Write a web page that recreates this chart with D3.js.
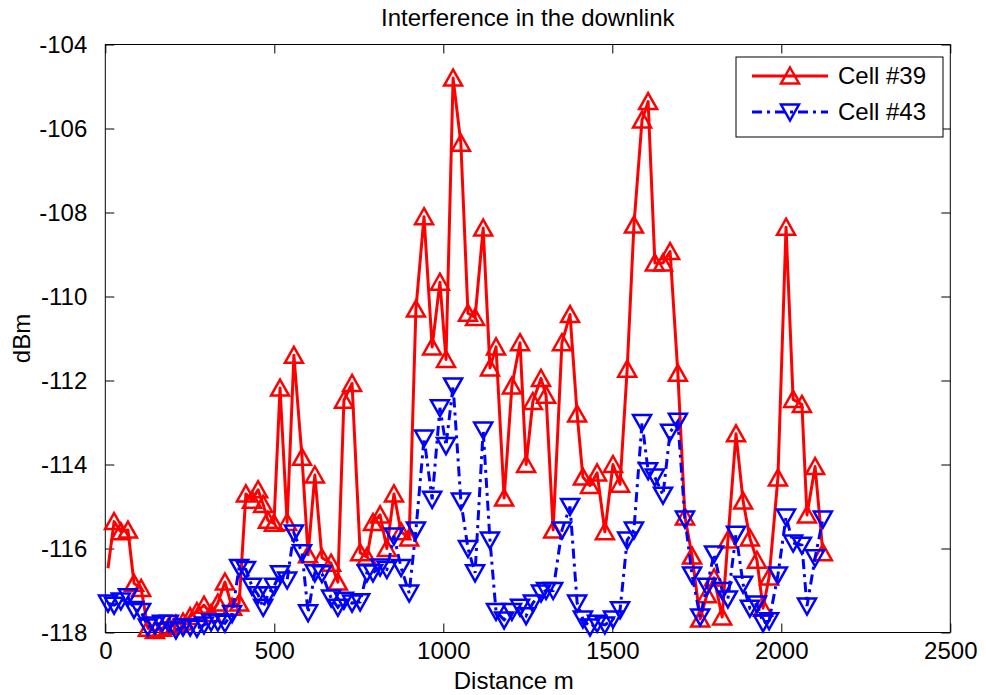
<!DOCTYPE html>
<html>
<head>
<meta charset="utf-8">
<script src="https://cdn.jsdelivr.net/npm/d3@7"></script>
<style>
  html, body { margin: 0; padding: 0; background: #fff; }
  svg { display: block; font-family: "Liberation Sans", Arial, Helvetica, sans-serif; }
</style>
</head>
<body>
<svg id="chart" width="986" height="695"></svg>
<script>
// ---- data ----
const distance = [8, 26, 46, 67, 85, 106, 126, 147, 168, 188, 209, 230, 251, 271, 292, 313, 333, 354, 375, 396,
  416, 434, 452, 467, 481, 499, 517, 538, 558, 582, 600, 620, 641, 668, 688, 706, 730, 754, 774, 792,
  813, 833, 854, 875, 899, 919, 943, 967, 990, 1008, 1029, 1052, 1073, 1094, 1118, 1138, 1156, 1180, 1203, 1227,
  1245, 1265, 1289, 1304, 1325, 1351, 1375, 1396, 1413, 1434, 1455, 1478, 1502, 1523, 1544, 1564, 1588, 1606, 1626, 1650,
  1671, 1694, 1715, 1736, 1760, 1780, 1801, 1825, 1842, 1866, 1887, 1907, 1928, 1946, 1964, 1990, 2014, 2035, 2061, 2076,
  2100, 2123];

const cell39 = [-116.47, -115.36, -115.60, -115.56, -116.83, -116.95, -117.90, -117.95, -117.90, -117.85, -117.80, -117.75, -117.62, -117.50, -117.35, -117.55, -117.30, -116.80, -117.40, -117.30,
  -114.70, -114.85, -114.60, -114.95, -115.33, -115.40, -112.18, -115.38, -111.40, -113.83, -116.15, -114.25, -116.22, -116.35, -116.80, -112.47, -112.07, -116.10, -116.20, -115.38,
  -115.20, -116.00, -114.70, -115.60, -115.75, -110.30, -108.10, -111.20, -109.66, -111.50, -104.80, -106.35, -110.40, -110.50, -108.37, -111.70, -111.20, -114.80, -112.13, -111.10,
  -114.00, -112.50, -111.95, -112.35, -115.56, -111.10, -110.43, -112.80, -114.30, -114.50, -114.20, -115.60, -114.00, -114.47, -111.73, -108.30, -105.80, -105.36, -109.20, -109.20,
  -108.93, -111.83, -115.25, -116.18, -117.68, -117.10, -116.70, -117.63, -115.80, -113.27, -114.87, -115.75, -116.28, -117.42, -116.68, -114.32, -108.35, -112.45, -112.57, -115.20,
  -114.05, -116.10];

const cell43 = [-117.30, -117.35, -117.25, -117.15, -117.45, -117.50, -117.87, -117.82, -117.78, -117.78, -117.94, -117.87, -117.87, -117.90, -117.82, -117.75, -117.75, -117.78, -117.55, -116.45,
  -116.50, -116.90, -117.10, -117.40, -117.10, -116.90, -116.60, -116.75, -115.63, -116.10, -117.53, -116.58, -116.60, -117.18, -117.40, -117.23, -117.30, -117.27, -116.58, -116.58,
  -116.44, -116.50, -115.70, -116.45, -117.06, -115.56, -113.37, -114.83, -112.65, -113.55, -112.13, -114.87, -116.00, -116.58, -113.18, -115.80, -117.50, -117.70, -117.50, -117.40,
  -117.60, -117.30, -117.06, -117.00, -117.00, -115.56, -115.00, -117.30, -117.68, -117.87, -117.78, -117.82, -117.68, -117.46, -115.80, -115.56, -113.00, -114.15, -114.30, -114.73,
  -113.23, -112.97, -115.30, -116.63, -117.63, -116.90, -116.13, -117.00, -117.20, -115.66, -116.85, -117.42, -117.32, -117.77, -117.72, -116.63, -115.25, -115.87, -115.92, -117.37,
  -116.22, -115.30];

const xTicks = [0, 500, 1000, 1500, 2000, 2500];
const yTicks = [-118, -116, -114, -112, -110, -108, -106, -104];
const seriesNames = ["Cell #39", "Cell #43"];
const seriesColors = ["#ff0000", "#0000ff"];

// ---- layout ----
const svg = d3.select("#chart");
const L = 105.3, R = 950.3, T = 44.5, B = 632.5;
const x = d3.scaleLinear().domain([0, 2500]).range([L, R]);
const y = d3.scaleLinear().domain([-118, -104]).range([B, T]);
const fs = 24;

svg.append("rect").attr("x", 0).attr("y", 0).attr("width", 986).attr("height", 695).attr("fill", "#fff");

// axes (MATLAB style, ticks inside, box)
const tickLen = 9;
const gx = svg.append("g").attr("transform", `translate(0,${B})`)
  .call(d3.axisBottom(x).tickValues(xTicks).tickSizeInner(-tickLen).tickSizeOuter(0).tickPadding(9).tickFormat(d3.format("d")));
const gxt = svg.append("g").attr("transform", `translate(0,${T})`)
  .call(d3.axisTop(x).tickValues(xTicks).tickSizeInner(-tickLen).tickSizeOuter(0).tickFormat(""));
const gy = svg.append("g").attr("transform", `translate(${L},0)`)
  .call(d3.axisLeft(y).tickValues(yTicks).tickSizeInner(-tickLen).tickSizeOuter(0).tickPadding(18).tickFormat(d => String(d)));
const gyr = svg.append("g").attr("transform", `translate(${R},0)`)
  .call(d3.axisRight(y).tickValues(yTicks).tickSizeInner(-tickLen).tickSizeOuter(0).tickFormat(""));
[gx, gxt, gy, gyr].forEach(g => {
  g.select(".domain").remove();
  g.selectAll(".tick line").attr("stroke", "#000").attr("stroke-width", 1);
  g.selectAll("text").attr("fill", "#000").style("font-size", fs + "px").style("font-family", "'Liberation Sans', Arial, sans-serif");
});
svg.append("rect").attr("x", L).attr("y", T).attr("width", R - L).attr("height", B - T)
  .attr("fill", "none").attr("stroke", "#000").attr("stroke-width", 1);

// titles
svg.append("text").attr("x", (L + R) / 2).attr("y", 26).attr("text-anchor", "middle")
  .style("font-size", fs + "px").text("Interference in the downlink");
svg.append("text").attr("x", (L + R) / 2 - 14).attr("y", 689).attr("text-anchor", "middle")
  .style("font-size", fs + "px").text("Distance m");
svg.append("text").attr("transform", `translate(30,${(T + B) / 2}) rotate(-90)`).attr("text-anchor", "middle")
  .style("font-size", fs + "px").text("dBm");

// markers
const triUp = "M0,-8.5 L9,7.5 L-9,7.5 Z";
const triDown = "M0,8.5 L9,-7.5 L-9,-7.5 Z";

const line = d3.line().x(d => x(d[0])).y(d => y(d[1]));
const d39 = distance.map((d, i) => [d, cell39[i]]);
const d43 = distance.map((d, i) => [d, cell43[i]]);

// Cell #39
svg.append("path").datum(d39).attr("d", line).attr("fill", "none")
  .attr("stroke", seriesColors[0]).attr("stroke-width", 3).attr("stroke-linejoin", "round");
svg.append("g").selectAll("path").data(d39.slice(1)).join("path")
  .attr("d", triUp).attr("transform", d => `translate(${x(d[0])},${y(d[1])})`)
  .attr("fill", "none").attr("stroke", seriesColors[0]).attr("stroke-width", 2.5);

// Cell #43
svg.append("path").datum(d43).attr("d", line).attr("fill", "none")
  .attr("stroke", seriesColors[1]).attr("stroke-width", 3).attr("stroke-dasharray", "10,5,3,5");
svg.append("g").selectAll("path").data(d43).join("path")
  .attr("d", triDown).attr("transform", d => `translate(${x(d[0])},${y(d[1])})`)
  .attr("fill", "none").attr("stroke", seriesColors[1]).attr("stroke-width", 2.5);

// legend
const lg = svg.append("g");
lg.append("rect").attr("x", 736).attr("y", 57).attr("width", 207).attr("height", 80)
  .attr("fill", "#fff").attr("stroke", "#000").attr("stroke-width", 1);
const rows = [76, 112];
seriesNames.forEach((name, i) => {
  const yy = rows[i];
  lg.append("line").attr("x1", 752).attr("x2", 828).attr("y1", yy).attr("y2", yy)
    .attr("stroke", seriesColors[i]).attr("stroke-width", 3)
    .attr("stroke-dasharray", i === 1 ? "10,5,3,5" : null);
  lg.append("path").attr("d", i === 0 ? triUp : triDown).attr("transform", `translate(790,${yy})`)
    .attr("fill", "none").attr("stroke", seriesColors[i]).attr("stroke-width", 2.5);
  lg.append("text").attr("x", 838).attr("y", yy).attr("dy", "0.35em")
    .style("font-size", fs + "px").text(name);
});
</script>
</body>
</html>
